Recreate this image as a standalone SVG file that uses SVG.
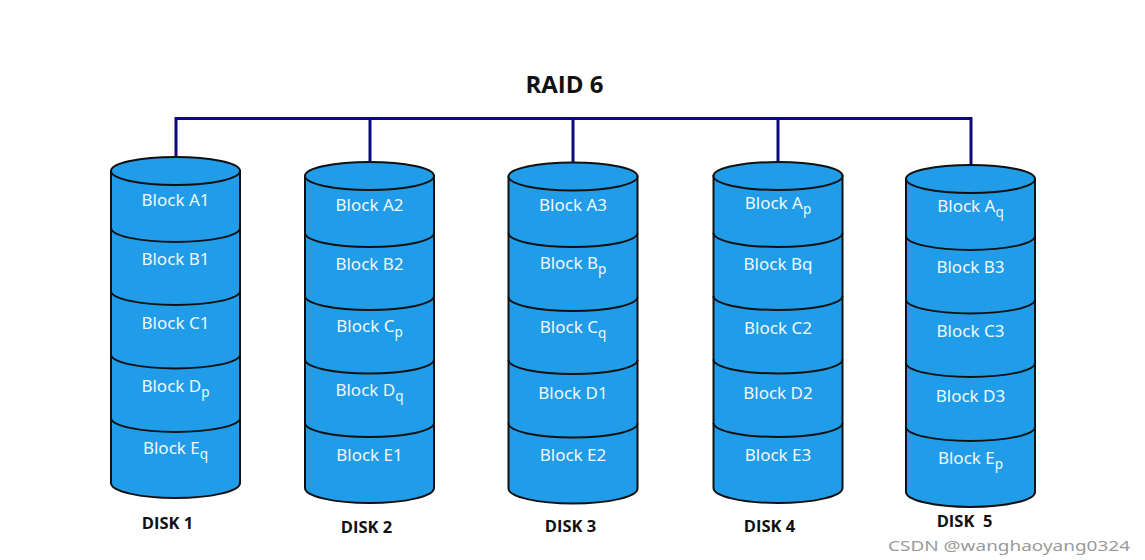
<svg xmlns="http://www.w3.org/2000/svg" width="1145" height="560" viewBox="0 0 1145 560">
<style>
.body{fill:#209ce8;stroke:#111;stroke-width:2}
.div{fill:none;stroke:#111;stroke-width:2}
.lbl{font-family:"Noto Sans","Open Sans",sans-serif;font-size:17px;fill:#f0f8ff;text-anchor:middle}
.sub{font-size:13.5px}
.disk{font-family:"Open Sans","Noto Sans",sans-serif;font-size:16.5px;font-weight:bold;fill:#111;text-anchor:middle}
.title{font-family:"Open Sans","Noto Sans",sans-serif;font-size:24px;font-weight:bold;fill:#111;text-anchor:middle}
.conn{fill:none;stroke:#0b0b7d;stroke-width:3}
</style>
<rect width="1145" height="560" fill="#fff"/>
<text class="title" x="564.5" y="93">RAID 6</text>
<g id="connectors">
<path class="conn" d="M176 159 V118.5 H971 V165"/>
<path class="conn" d="M370 118.5 V162"/>
<path class="conn" d="M573 118.5 V163"/>
<path class="conn" d="M778 118.5 V162"/>
</g>
<g id="disk1">
<path class="body" d="M111 171 V483 A64.5 15 0 0 0 240 483 V171 Z"/>
<ellipse class="body" cx="175.5" cy="171" rx="64.5" ry="14"/>
<path class="div" d="M111 228 A64.5 14 0 0 0 240 228 M111 291 A64.5 14 0 0 0 240 291 M111 354.5 A64.5 14 0 0 0 240 354.5 M111 418 A64.5 14 0 0 0 240 418"/>
<text class="lbl" x="175.5" y="206">Block A1</text>
<text class="lbl" x="175.5" y="265">Block B1</text>
<text class="lbl" x="175.5" y="329">Block C1</text>
<text class="lbl" x="175.5" y="392">Block D<tspan class="sub" dy="5">p</tspan></text>
<text class="lbl" x="175.5" y="454">Block E<tspan class="sub" dy="5">q</tspan></text>
<text class="disk" x="167.5" y="529">DISK 1</text>
</g>
<g id="disk2">
<path class="body" d="M305 176 V488 A64.5 15 0 0 0 434 488 V176 Z"/>
<ellipse class="body" cx="369.5" cy="176" rx="64.5" ry="14"/>
<path class="div" d="M305 233 A64.5 14 0 0 0 434 233 M305 296 A64.5 14 0 0 0 434 296 M305 359.5 A64.5 14 0 0 0 434 359.5 M305 423 A64.5 14 0 0 0 434 423"/>
<text class="lbl" x="369.5" y="211">Block A2</text>
<text class="lbl" x="369.5" y="270">Block B2</text>
<text class="lbl" x="369.5" y="332">Block C<tspan class="sub" dy="5">p</tspan></text>
<text class="lbl" x="369.5" y="396">Block D<tspan class="sub" dy="5">q</tspan></text>
<text class="lbl" x="369.5" y="461">Block E1</text>
<text class="disk" x="366.5" y="533">DISK 2</text>
</g>
<g id="disk3">
<path class="body" d="M508.5 176.5 V488.5 A64.5 15 0 0 0 637.5 488.5 V176.5 Z"/>
<ellipse class="body" cx="573" cy="176.5" rx="64.5" ry="14"/>
<path class="div" d="M508.5 233 A64.5 14 0 0 0 637.5 233 M508.5 297 A64.5 14 0 0 0 637.5 297 M508.5 360 A64.5 14 0 0 0 637.5 360 M508.5 423.5 A64.5 14 0 0 0 637.5 423.5"/>
<text class="lbl" x="573" y="211">Block A3</text>
<text class="lbl" x="573" y="269">Block B<tspan class="sub" dy="5">p</tspan></text>
<text class="lbl" x="573" y="333">Block C<tspan class="sub" dy="5">q</tspan></text>
<text class="lbl" x="573" y="399">Block D1</text>
<text class="lbl" x="573" y="461">Block E2</text>
<text class="disk" x="570.5" y="532">DISK 3</text>
</g>
<g id="disk4">
<path class="body" d="M713.5 176 V488 A64.5 15 0 0 0 842.5 488 V176 Z"/>
<ellipse class="body" cx="778" cy="176" rx="64.5" ry="14"/>
<path class="div" d="M713.5 233 A64.5 14 0 0 0 842.5 233 M713.5 296 A64.5 14 0 0 0 842.5 296 M713.5 359.5 A64.5 14 0 0 0 842.5 359.5 M713.5 423 A64.5 14 0 0 0 842.5 423"/>
<text class="lbl" x="778" y="209">Block A<tspan class="sub" dy="5">p</tspan></text>
<text class="lbl" x="778" y="270">Block Bq</text>
<text class="lbl" x="778" y="334">Block C2</text>
<text class="lbl" x="778" y="399">Block D2</text>
<text class="lbl" x="778" y="461">Block E3</text>
<text class="disk" x="769.5" y="532">DISK 4</text>
</g>
<g id="disk5">
<path class="body" d="M906 179 V492 A64.5 15 0 0 0 1035 492 V179 Z"/>
<ellipse class="body" cx="970.5" cy="179" rx="64.5" ry="14"/>
<path class="div" d="M906 236 A64.5 14 0 0 0 1035 236 M906 299.5 A64.5 14 0 0 0 1035 299.5 M906 363 A64.5 14 0 0 0 1035 363 M906 427 A64.5 14 0 0 0 1035 427"/>
<text class="lbl" x="970.5" y="212">Block A<tspan class="sub" dy="5">q</tspan></text>
<text class="lbl" x="970.5" y="273">Block B3</text>
<text class="lbl" x="970.5" y="337">Block C3</text>
<text class="lbl" x="970.5" y="402">Block D3</text>
<text class="lbl" x="970.5" y="464">Block E<tspan class="sub" dy="5">p</tspan></text>
<text class="disk" x="964.5" y="527" xml:space="preserve">DISK  5</text>
</g>
<text x="888" y="551" textLength="242" lengthAdjust="spacingAndGlyphs" style="font-family:'Noto Sans','Open Sans',sans-serif;font-size:15px;fill:#9a9a9a">CSDN @wanghaoyang0324</text>
</svg>
